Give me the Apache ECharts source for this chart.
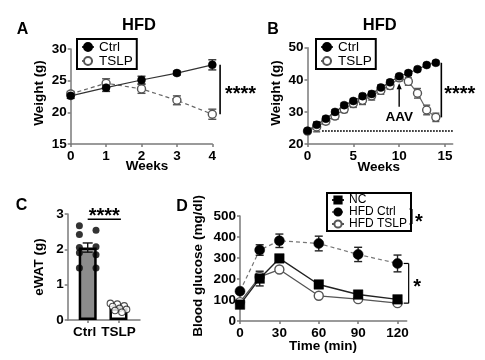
<!DOCTYPE html>
<html><head><meta charset="utf-8">
<script src="https://cdn.jsdelivr.net/npm/echarts@6/dist/echarts.min.js"></script>
<style>html,body{margin:0;padding:0;background:#fff}#c{width:485px;height:360px}</style>
</head><body><div id="c"></div>
<script>
// ---------- Panel A ----------
const weeksA = [0, 1, 2, 3, 4];
const ctrlA = [22.6, 23.9, 25.1, 26.2, 27.5];
const ctrlAErr = [0.4, 0.6, 0.6, 0.3, 0.8];
const tslpA = [22.9, 24.6, 23.7, 21.9, 19.7];
const tslpAErr = [0.4, 0.7, 0.7, 0.7, 0.8];
const xTicksA = [0, 1, 2, 3, 4];
const yTicksA = [15, 20, 25, 30];
// ---------- Panel B ----------
const weeksB = [0, 1, 2, 3, 4, 5, 6, 7, 8, 9, 10, 11, 12, 13, 14];
const ctrlB = [24.1, 26.0, 27.9, 30.0, 32.1, 33.4, 34.9, 35.6, 37.6, 39.2, 41.1, 42.1, 43.3, 44.6, 45.3];
const ctrlBErr = [0.6, 0.8, 0.7, 0.7, 0.7, 0.7, 0.8, 0.8, 0.8, 0.8, 0.7, 0.7, 0.6, 0.6, 0.6];
const tslpB = [24.0, 25.3, 27.1, 28.7, 30.8, 32.6, 33.6, 35.0, 36.7, 38.2, 40.6, 39.5, 35.8, 30.6, 28.3];
const tslpBErr = [0.6, 1.5, 1.0, 1.0, 1.0, 1.2, 1.3, 1.3, 1.2, 1.1, 1.0, 1.2, 1.5, 1.5, 1.3];
const baselineB = 24;
const xTicksB = [0, 5, 10, 15];
const yTicksB = [20, 30, 40, 50];
// ---------- Panel C ----------
const catsC = ['Ctrl', 'TSLP'];
const meanC = [2.05, 0.33];
const semC = [0.13, 0.04];
const ctrlDotsC = [2.67, 2.54, 2.42, 2.07, 1.90, 1.85, 1.47, 1.47, 2.05];
const tslpDotsC = [0.47, 0.45, 0.40, 0.38, 0.33, 0.30, 0.27, 0.22];
const yTicksC = [0, 1, 2, 3];
// ---------- Panel D ----------
const timesD = [0, 15, 30, 60, 90, 120];
const ncD = [78, 202, 298, 174, 126, 103];
const ncDErr = [15, 35, 10, 8, 8, 8];
const hfdCtrlD = [142, 338, 382, 369, 317, 274];
const hfdCtrlDErr = [8, 25, 32, 35, 34, 40];
const hfdTslpD = [90, 210, 245, 120, 104, 85];
const hfdTslpDErr = [10, 18, 10, 8, 6, 6];
const xTicksD = [0, 30, 60, 90, 120];
const yTicksD = [0, 100, 200, 300, 400, 500];

const FF = '"Liberation Sans", Arial, Helvetica, sans-serif';
const AX = '#7a7a7a';

function axis(gi, min, max, ticks, isY, extra) {
  return Object.assign({
    type: 'value', gridIndex: gi, min: min, max: max,
    axisLine: { show: true, onZero: false, lineStyle: { color: AX, width: 1.5 } },
    axisTick: { show: true, length: 3, customValues: ticks, lineStyle: { color: AX, width: 1.5 } },
    axisLabel: { customValues: ticks, color: '#000', fontWeight: 'bold', fontSize: 13.5, fontFamily: FF, margin: isY ? 4 : 5 },
    splitLine: { show: false }
  }, extra || {});
}

function errSeries(gi, xs, ys, es, color, capW, z) {
  return {
    type: 'custom', xAxisIndex: gi, yAxisIndex: gi, z: z || 2, silent: true,
    data: xs.map((x, i) => [x, ys[i] - es[i], ys[i] + es[i]]),
    encode: { x: 0, y: [1, 2] },
    renderItem: function (params, api) {
      const lo = api.coord([api.value(0), api.value(1)]);
      const hi = api.coord([api.value(0), api.value(2)]);
      const h = capW / 2;
      const st = { stroke: color, lineWidth: 1.4 };
      return { type: 'group', children: [
        { type: 'line', shape: { x1: lo[0], y1: lo[1], x2: hi[0], y2: hi[1] }, style: st },
        { type: 'line', shape: { x1: lo[0] - h, y1: lo[1], x2: lo[0] + h, y2: lo[1] }, style: st },
        { type: 'line', shape: { x1: hi[0] - h, y1: hi[1], x2: hi[0] + h, y2: hi[1] }, style: st }
      ] };
    }
  };
}

function pts(xs, ys) { return xs.map((x, i) => [x, ys[i]]); }

function lineSeries(name, gi, xs, ys, o) {
  return {
    name: name, type: 'line', xAxisIndex: gi, yAxisIndex: gi, z: 4,
    data: pts(xs, ys), symbol: o.symbol || 'circle', symbolSize: o.size || 8,
    itemStyle: o.item, lineStyle: o.line, animation: false
  };
}

const filledItem = { color: '#000', borderColor: '#000', borderWidth: 0.5 };
const openItem = { color: '#fff', borderColor: '#555', borderWidth: 1.4 };

const legendBase = {
  orient: 'vertical', selectedMode: false, borderColor: '#000', borderWidth: 2,
  padding: [1, 4, 1, 4], itemGap: 0, itemWidth: 12
};

const option = {
  backgroundColor: '#fff',
  animation: false,
  grid: [
    { left: 70.7, top: 49, width: 141.6, height: 95 },
    { left: 307.5, top: 47.7, width: 145.2, height: 96.3 },
    { left: 67.7, top: 214, width: 72.3, height: 106 },
    { left: 240, top: 216, width: 166.7, height: 105 }
  ],
  xAxis: [
    axis(0, 0, 4, xTicksA, false),
    axis(1, 0, 15.84, xTicksB, false),
    axis(2, -0.65, 1.7, [0, 1], false, {
      axisLabel: { customValues: [-0.1, 1], formatter: v => catsC[v < 0.5 ? 0 : 1], color: '#000', fontWeight: 'bold', fontSize: 13.5, fontFamily: FF, margin: 5 }
    }),
    axis(3, 0, 127, xTicksD, false)
  ],
  yAxis: [
    axis(0, 15, 30, yTicksA, true),
    axis(1, 20, 50, yTicksB, true),
    axis(2, 0, 3, yTicksC, true),
    axis(3, 0, 500, yTicksD, true)
  ],
  legend: [
    Object.assign({}, legendBase, {
      left: 77, top: 39, itemHeight: 10, data: ['Ctrl', 'TSLP'],
      textStyle: { fontSize: 13.5, color: '#000', fontFamily: FF, lineHeight: 13 }
    }),
    Object.assign({}, legendBase, {
      left: 316, top: 39, itemHeight: 10, data: ['Ctrl', 'TSLP'],
      textStyle: { fontSize: 13.5, color: '#000', fontFamily: FF, lineHeight: 13 }
    }),
    Object.assign({}, legendBase, {
      left: 327, top: 193, itemHeight: 9, data: ['NC', 'HFD Ctrl', 'HFD TSLP'],
      textStyle: { fontSize: 12, color: '#000', fontFamily: FF, lineHeight: 10.6 }
    })
  ],
  series: [
    // A
    errSeries(0, weeksA, tslpA, tslpAErr, '#555', 8, 2),
    errSeries(0, weeksA, ctrlA, ctrlAErr, '#333', 8, 2),
    lineSeries('TSLP', 0, weeksA, tslpA, { item: openItem, line: { color: '#666', width: 1.2, type: [4, 3] } }),
    lineSeries('Ctrl', 0, weeksA, ctrlA, { item: filledItem, line: { color: '#333', width: 1.2 } }),
    // B
    errSeries(1, weeksB, tslpB, tslpBErr, '#555', 7, 2),
    errSeries(1, weeksB, ctrlB, ctrlBErr, '#333', 7, 2),
    Object.assign(lineSeries('TSLP', 1, weeksB, tslpB, { item: openItem, line: { color: '#666', width: 1.2 } }), {
      markLine: {
        silent: true, symbol: 'none', label: { show: false },
        lineStyle: { color: '#222', type: [1.5, 1.5], width: 2 },
        data: [[{ coord: [1.6, baselineB] }, { coord: [15.84, baselineB] }]]
      }
    }),
    lineSeries('Ctrl', 1, weeksB, ctrlB, { item: filledItem, line: { color: '#333', width: 1.2 } }),
    // C
    {
      type: 'bar', xAxisIndex: 2, yAxisIndex: 2, barWidth: 18, z: 2,
      data: catsC.map((c, i) => ({
        value: [i, meanC[i]],
        itemStyle: { color: i === 0 ? '#8c8c8c' : '#fff', borderColor: '#000', borderWidth: 2.5 }
      }))
    },
    errSeries(2, [0, 1], meanC, semC, '#111', 10, 3),
    {
      type: 'scatter', xAxisIndex: 2, yAxisIndex: 2, z: 4, symbol: 'circle', symbolSize: 7,
      itemStyle: { color: '#000' },
      data: ctrlDotsC.map((v, i) => [(i % 2 === 0 ? -0.27 : 0.27), v])
    },
    {
      type: 'scatter', xAxisIndex: 2, yAxisIndex: 2, z: 4, symbol: 'circle', symbolSize: 6.5,
      itemStyle: { color: '#fff', borderColor: '#222', borderWidth: 1.1 },
      data: tslpDotsC.map((v, i) => [1 + (((i * 3) % tslpDotsC.length) - (tslpDotsC.length - 1) / 2) * 0.075, v])
    },
    // D
    errSeries(3, timesD, hfdTslpD, hfdTslpDErr, '#555', 8, 2),
    errSeries(3, timesD, ncD, ncDErr, '#222', 8, 2),
    errSeries(3, timesD, hfdCtrlD, hfdCtrlDErr, '#222', 8, 2),
    lineSeries('HFD TSLP', 3, timesD, hfdTslpD, { size: 9, item: openItem, line: { color: '#555', width: 1.3 } }),
    lineSeries('NC', 3, timesD, ncD, { symbol: 'rect', size: 9.5, item: filledItem, line: { color: '#222', width: 1.4 } }),
    lineSeries('HFD Ctrl', 3, timesD, hfdCtrlD, { size: 10, item: filledItem, line: { color: '#777', width: 1.2, type: [4, 3] } })
  ]
};

const chart = echarts.init(document.getElementById('c'), null, { renderer: 'canvas' });
chart.setOption(option);

function px(gi, x, y) { return chart.convertToPixel({ gridIndex: gi }, [x, y]); }
function T(x, y, s, size, o) {
  return Object.assign({ type: 'text', x: x, y: y, z: 100,
    style: { text: s, fontSize: size, fontWeight: 'bold', fontFamily: FF, fill: '#000', align: 'center', verticalAlign: 'middle' } }, o || {});
}
function L(p1, p2, w) {
  return { type: 'line', z: 100, shape: { x1: p1[0], y1: p1[1], x2: p2[0], y2: p2[1] }, style: { stroke: '#000', lineWidth: w || 1.6 } };
}

const g = [];
// titles, letters
g.push(T(139, 25.5, 'HFD', 16.5), T(379.7, 25.5, 'HFD', 16.5));
g.push(T(22.5, 30, 'A', 16), T(273, 30, 'B', 16), T(21.5, 206, 'C', 16), T(182, 206.5, 'D', 16));
// axis titles
g.push(T(147, 166.7, 'Weeks', 13.5), T(378.7, 167, 'Weeks', 13.5), T(323, 346, 'Time (min)', 13.5));
g.push(T(39, 93, 'Weight (g)', 13.5, { rotation: Math.PI / 2 }));
g.push(T(276, 93, 'Weight (g)', 13.5, { rotation: Math.PI / 2 }));
g.push(T(39.3, 267, 'eWAT (g)', 13.5, { rotation: Math.PI / 2 }));
g.push(T(198, 266, 'Blood glucose (mg/dl)', 13.5, { rotation: Math.PI / 2 }));
// A significance
let a1 = px(0, 4.22, ctrlA[4]), a2 = px(0, 4.22, tslpA[4]);
g.push(L(a1, a2), T(a1[0] + 20.5, (a1[1] + a2[1]) / 2 + 4.5, '****', 20));
// B significance
let b1 = px(1, 14.6, ctrlB[14]), b2 = px(1, 14.6, tslpB[14]);
g.push(L(b1, b2), T(b1[0] + 18.5, (b1[1] + b2[1]) / 2 + 4.5, '****', 20));
// AAV arrow
let r1 = px(1, 10, 31.6), r2 = px(1, 10, 38.9);
g.push(L(r1, [r2[0], r2[1] + 4], 1.4));
g.push({ type: 'polygon', z: 100, shape: { points: [[r2[0], r2[1]], [r2[0] - 2.6, r2[1] + 6], [r2[0] + 2.6, r2[1] + 6]] }, style: { fill: '#000' } });
g.push(T(r1[0], r1[1] + 10.5, 'AAV', 13.5));
// C significance
let c1 = px(2, 0, 2.85), c2 = px(2, 1.08, 2.85);
g.push(L(c1, c2, 1.5), T((c1[0] + c2[0]) / 2, c1[1] - 7 + 4.5, '****', 20));
// D bracket at 120 min
let d1 = px(3, 128.5, hfdCtrlD[5]), d2 = px(3, 128.5, hfdTslpD[5]);
g.push(L(d1, d2, 1.2), L(d1, [d1[0] - 5, d1[1]], 1.2), L(d2, [d2[0] - 5, d2[1]], 1.2));
g.push(T(d1[0] + 8.5, (d1[1] + d2[1]) / 2 + 4.5, '*', 20));
// D legend bracket
g.push(L([412, 209], [412, 224], 1.2), L([412, 209], [409.5, 209], 1.2), L([412, 224], [409.5, 224], 1.2));
g.push(T(419, 218 + 4.5, '*', 20));

chart.setOption({ graphic: { elements: g } });
</script>
</body></html>
